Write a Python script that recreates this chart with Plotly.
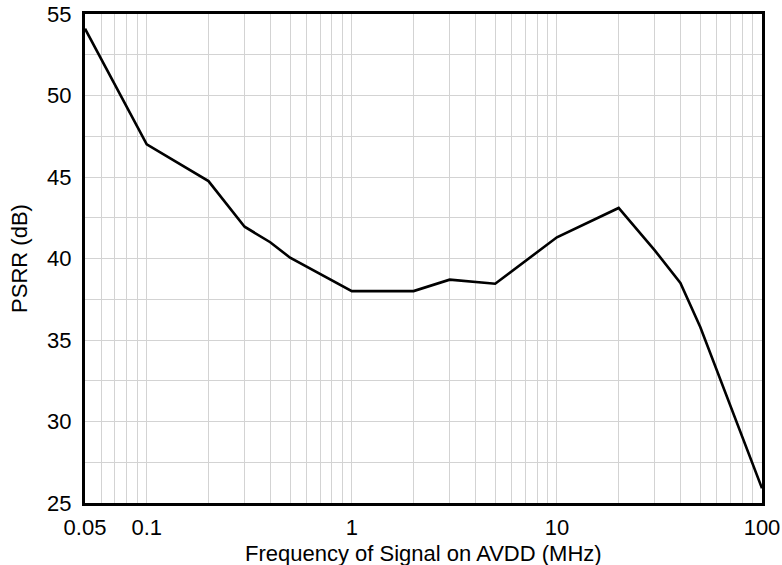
import math
import plotly.graph_objects as go

freq_mhz = [0.05, 0.1, 0.2, 0.3, 0.4, 0.5, 1, 2, 3, 5, 10, 20, 30, 40, 50, 100]
psrr_db = [54.1, 47.0, 44.75, 41.95, 41.0, 40.05, 38.0, 38.0, 38.7, 38.45, 41.3, 43.1, 40.5, 38.5, 35.8, 25.9]

x_labels = {0.05: "0.05", 0.1: "0.1", 1: "1", 10: "10", 100: "100"}
y_ticks = [25, 30, 35, 40, 45, 50, 55]
x_title = "Frequency of Signal on AVDD (MHz)"
y_title = "PSRR (dB)"

grid_x = [0.05, 0.06, 0.07, 0.08, 0.09]
for dec in [0.1, 1, 10]:
    grid_x += [round(dec * k, 6) for k in range(1, 10)]
grid_x.append(100)
tick_text = [x_labels.get(v, "") for v in grid_x]

font_family = "Liberation Sans, Arial, sans-serif"
FS = 22

fig = go.Figure()
fig.add_trace(go.Scatter(x=freq_mhz, y=psrr_db, mode="lines",
                         line=dict(color="black", width=2.6), showlegend=False))

fig.update_layout(
    width=782, height=565,
    margin=dict(l=85, r=20, t=14, b=62, autoexpand=False),
    paper_bgcolor="white", plot_bgcolor="white",
    font=dict(family=font_family, size=FS, color="black"),
)
fig.update_xaxes(
    type="log", range=[math.log10(0.05), math.log10(100)],
    tickmode="array", tickvals=grid_x, ticktext=tick_text,
    showgrid=True, gridcolor="#d3d3d3", gridwidth=1,
    showline=True, linecolor="black", linewidth=3, mirror=True,
    ticks="", tickfont=dict(size=FS), ticklabelstandoff=3,
    ticklabeloverflow="allow",
    zeroline=False, automargin=False,
)
fig.update_yaxes(
    range=[25, 55], tickmode="array", tickvals=y_ticks,
    showgrid=True, gridcolor="#d3d3d3", gridwidth=1,
    minor=dict(dtick=2.5, tick0=25, showgrid=True, gridcolor="#d3d3d3", gridwidth=1),
    showline=True, linecolor="black", linewidth=3, mirror=True,
    ticks="", tickfont=dict(size=FS), ticklabelstandoff=6,
    ticklabeloverflow="allow",
    title=dict(text=y_title, font=dict(size=FS), standoff=14),
    zeroline=False, automargin=False,
)
fig.add_annotation(
    text=x_title, xref="paper", yref="paper", x=0.5, y=0,
    xanchor="center", yanchor="middle", yshift=-50, showarrow=False,
    font=dict(size=FS, family=font_family, color="black"),
)

fig.write_html(
    "out.html",
    config={"displayModeBar": False},
    post_script="document.body.style.margin='0';document.body.style.overflow='hidden';",
)
